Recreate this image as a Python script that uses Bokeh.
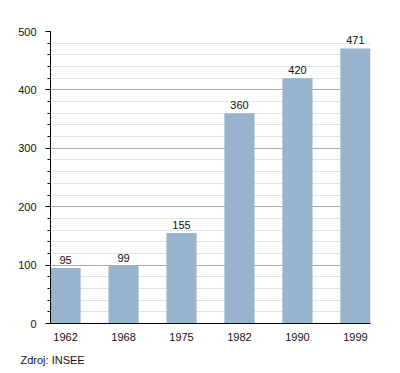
from bokeh.plotting import figure
from bokeh.models import ColumnDataSource, FixedTicker, Title, Range1d
from bokeh.core.properties import value
from bokeh.embed import file_html
from bokeh.resources import INLINE

years = ["1962", "1968", "1975", "1982", "1990", "1999"]
counts = [95, 99, 155, 360, 420, 471]
y_ticks = [0, 100, 200, 300, 400, 500]
source_note = "Zdroj: INSEE"

xs = list(range(len(years)))
src = ColumnDataSource(dict(x=xs, top=counts, lbl=[str(c) for c in counts]))

p = figure(width=390, height=373, output_backend="svg", toolbar_location=None,
           x_range=Range1d(-0.26, len(years) - 1 + 0.26), y_range=Range1d(0, 500),
           min_border_left=50, min_border_right=20, min_border_top=31, min_border_bottom=49)
p.outline_line_color = None
p.background_fill_color = "white"
p.border_fill_color = "white"

p.vbar(x="x", top="top", width=0.52, bottom=0, source=src, fill_color="#98b3cd", line_color=None)
p.text(x="x", y="top", text="lbl", source=src, text_align="center", text_baseline="bottom",
       y_offset=-4, text_font_size="11px", text_font=value("Liberation Sans"), text_color="#111111")

# y axis
ya = p.yaxis[0]
ya.ticker = FixedTicker(ticks=y_ticks, minor_ticks=list(range(0, 501, 20)))
ya.axis_line_color = "black"
ya.major_tick_in = 0
ya.major_tick_out = 5
ya.minor_tick_in = 0
ya.minor_tick_out = 3
ya.major_tick_line_color = "black"
ya.minor_tick_line_color = "black"
ya.major_label_text_font = "Liberation Sans"
ya.major_label_text_font_size = "11px"
ya.major_label_text_color = "#111111"
ya.major_label_standoff = 9

# x axis
xa = p.xaxis[0]
xa.ticker = FixedTicker(ticks=xs)
xa.major_label_overrides = {i: y for i, y in enumerate(years)}
xa.axis_line_color = "black"
xa.major_tick_line_color = None
xa.minor_tick_line_color = None
xa.major_label_text_font = "Liberation Sans"
xa.major_label_text_font_size = "11px"
xa.major_label_text_color = "#111111"
xa.major_label_standoff = 3

p.xgrid.grid_line_color = None
p.ygrid.grid_line_color = "#aaaaaa"
p.ygrid.minor_grid_line_color = "#e2e2e2"
p.ygrid.level = "underlay"

note = Title(text=source_note, align="left", offset=-30, standoff=16,
             vertical_align="bottom",
             text_font="Liberation Sans", text_font_size="11px", text_font_style="normal",
             text_color="#111111")
p.add_layout(note, "below")

open("out.html", "w").write(file_html(p, INLINE))
